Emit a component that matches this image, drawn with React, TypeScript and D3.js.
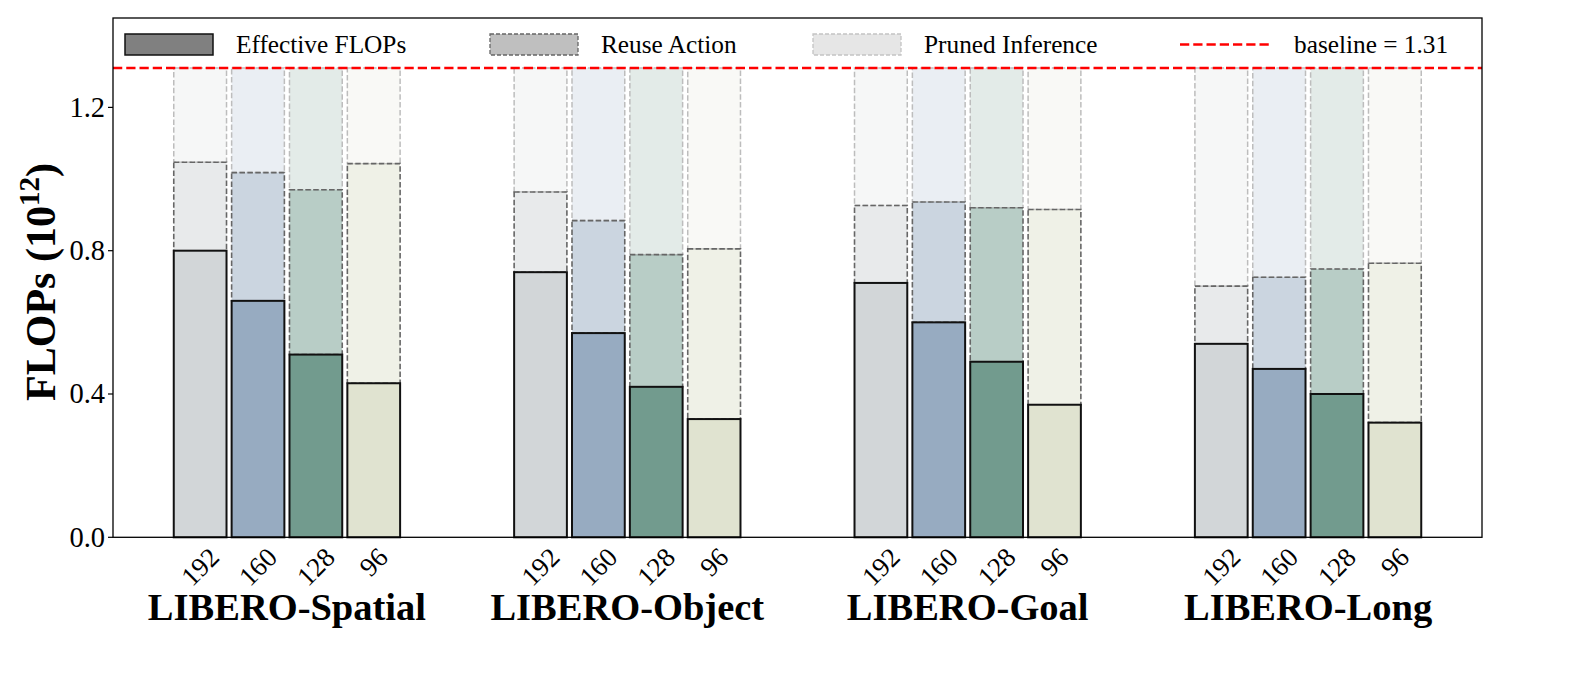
import React from "react";
import * as d3 from "d3";

const groups = ["LIBERO-Spatial", "LIBERO-Object", "LIBERO-Goal", "LIBERO-Long"];
const tokens = ["192", "160", "128", "96"];
const baseColors = ["#d2d6d8", "#97abc1", "#729b8e", "#e0e3d0"];
// effective FLOPs per group (order of tokens)
const effectiveSpatial = [0.8, 0.66, 0.51, 0.43];
const effectiveObject = [0.74, 0.57, 0.42, 0.33];
const effectiveGoal = [0.71, 0.6, 0.49, 0.37];
const effectiveLong = [0.54, 0.47, 0.4, 0.32];
// top of reuse-action segment per group
const reuseSpatial = [1.047, 1.018, 0.97, 1.043];
const reuseObject = [0.964, 0.884, 0.789, 0.805];
const reuseGoal = [0.926, 0.936, 0.92, 0.915];
const reuseLong = [0.701, 0.726, 0.749, 0.765];
const baseline = 1.31;
const yTicks = [0.0, 0.4, 0.8, 1.2];
const legendLabels = ["Effective FLOPs", "Reuse Action", "Pruned Inference", "baseline = 1.31"];

const effective = [effectiveSpatial, effectiveObject, effectiveGoal, effectiveLong];
const reuse = [reuseSpatial, reuseObject, reuseGoal, reuseLong];

const W = 1578, H = 698;
const L = 113, R = 1482, T = 18, B = 537.3;
const FONT = "'Liberation Serif', 'Times New Roman', serif";

export default function App() {
  const x = d3.scaleLinear().domain([-0.511, 3.511]).range([L, R]);
  const y = d3.scaleLinear().domain([0, 1.4495]).range([B, T]);
  const step = 0.17, bw = 0.155;
  const pxw = x(bw) - x(0);

  const bars: React.ReactNode[] = [];
  groups.forEach((g, gi) => {
    tokens.forEach((t, j) => {
      const cx = x(gi + (j - 1.5) * step);
      const x0 = cx - pxw / 2;
      const e = effective[gi][j], r = reuse[gi][j];
      const col = baseColors[j];
      bars.push(
        <g key={`${gi}-${j}`}>
          <rect x={x0} y={y(baseline)} width={pxw} height={y(r) - y(baseline)} fill={col} fillOpacity={0.2}
            stroke="#bdbdbd" strokeWidth={1.5} strokeDasharray="5.5,2.4" />
          <rect x={x0} y={y(r)} width={pxw} height={y(e) - y(r)} fill={col} fillOpacity={0.5}
            stroke="#666" strokeWidth={1.6} strokeDasharray="5.5,2.4" />
          <rect x={x0} y={y(e)} width={pxw} height={y(0) - y(e)} fill={col}
            stroke="#111" strokeWidth={2} />
        </g>
      );
    });
  });

  const tickLabels: React.ReactNode[] = [];
  groups.forEach((g, gi) => {
    tokens.forEach((t, j) => {
      const cx = x(gi + (j - 1.5) * step);
      const fs = 27;
      const w = t.length * 0.5 * fs, h = 0.68 * fs;
      const cy = 546 + (w + h) / (2 * Math.SQRT2);
      tickLabels.push(
        <text key={`t${gi}-${j}`} x={cx} y={cy} fontSize={fs} fontFamily={FONT} textAnchor="middle"
          dominantBaseline="central" transform={`rotate(-45 ${cx} ${cy})`}>{t}</text>
      );
    });
  });

  const legendPatch = [125, 490, 813];
  const legendText = [236, 601, 924, 1294];

  return (
    <svg width={W} height={H} style={{ position: "absolute", left: 0, top: 0, background: "#fff" }}>
      <rect x={0} y={0} width={W} height={H} fill="#fff" />
      {bars}
      {/* baseline */}
      <line x1={L} x2={R} y1={y(baseline)} y2={y(baseline)} stroke="#ff0000" strokeWidth={2.5} strokeDasharray="9.25,4" />
      {/* frame */}
      <rect x={L} y={T} width={R - L} height={B - T} fill="none" stroke="#000" strokeWidth={1.3} />
      {/* y ticks */}
      {yTicks.map((v) => (
        <g key={v}>
          <line x1={L - 5} x2={L} y1={y(v)} y2={y(v)} stroke="#000" strokeWidth={1.2} />
          <text x={L - 8} y={y(v)} fontSize={28.5} fontFamily={FONT} textAnchor="end" dominantBaseline="central">{v.toFixed(1)}</text>
        </g>
      ))}
      {/* y label */}
      <text transform={`translate(55 ${282}) rotate(-90)`} fontSize={42} fontWeight="bold" fontFamily={FONT} textAnchor="middle">
        FLOPs (10<tspan fontSize={29} dy={-16}>12</tspan><tspan dy={16}>)</tspan>
      </text>
      {tickLabels}
      {groups.map((g, gi) => (
        <text key={g} x={x(gi)} y={620} fontSize={38.5} fontWeight="bold" fontFamily={FONT} textAnchor="middle">{g}</text>
      ))}
      {/* legend */}
      <rect x={legendPatch[0]} y={34} width={88} height={21} fill="#808080" stroke="#111" strokeWidth={1.5} />
      <rect x={legendPatch[1]} y={34} width={88} height={21} fill="#bfbfbf" stroke="#666" strokeWidth={1.3} strokeDasharray="4,2" />
      <rect x={legendPatch[2]} y={34} width={88} height={21} fill="#e6e6e6" stroke="#c4c4c4" strokeWidth={1.3} strokeDasharray="4,2" />
      <line x1={1180} x2={1270} y1={44.5} y2={44.5} stroke="#ff0000" strokeWidth={2.5} strokeDasharray="9.25,4" />
      {legendLabels.map((l, i) => (
        <text key={l} x={legendText[i]} y={53} fontSize={25.3} fontFamily={FONT}>{l}</text>
      ))}
    </svg>
  );
}
